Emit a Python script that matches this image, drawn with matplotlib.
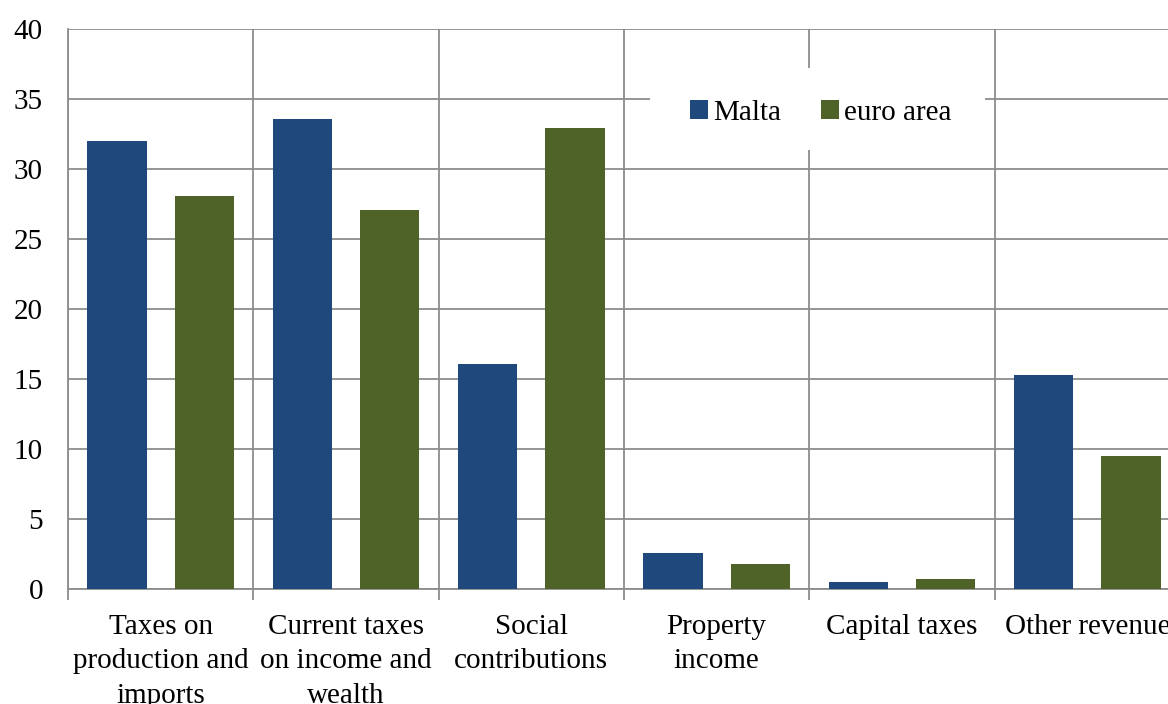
import numpy as np
import matplotlib.pyplot as plt
from matplotlib.patches import Rectangle

plt.rcParams['font.family'] = ['Liberation Serif', 'DejaVu Serif']

categories = ['Taxes on\nproduction and\nimports', 'Current taxes\non income and\nwealth',
              'Social\ncontributions', 'Property\nincome', 'Capital taxes', 'Other revenue']
malta = [32.0, 33.6, 16.1, 2.6, 0.5, 15.3]
euro_area = [28.1, 27.1, 32.9, 1.8, 0.7, 9.5]

grid_col = '#8c8c8c'
fs = 21
fig = plt.figure(figsize=(11.68, 7.04), dpi=100)
ax = fig.add_axes([68 / 1168, 115 / 704, 1112 / 1168, 560 / 704])

x = np.arange(len(categories))
w = 0.32
ax.bar(x - 0.235, malta, w, color='#1F497D', label='Malta', zorder=3)
ax.bar(x + 0.235, euro_area, w, color='#4F6228', label='euro area', zorder=3)

ax.set_xlim(-0.5, len(categories) - 0.5)
ax.set_ylim(0, 40)
ax.set_yticks(np.arange(0, 41, 5))
ax.set_xticks(x)
ax.set_xticklabels(categories, fontsize=fs, linespacing=1.42)
ax.set_xticks(np.arange(-0.5, len(categories), 1), minor=True)

ax.tick_params(axis='x', which='major', length=0, pad=18)
ax.tick_params(axis='x', which='minor', length=8, width=1.3, color=grid_col, direction='out')
ax.tick_params(axis='y', length=0, labelsize=fs, pad=18)

ax.set_axisbelow(True)
ax.grid(axis='y', color=grid_col, linewidth=1.3)
ax.grid(axis='x', which='minor', color=grid_col, linewidth=1.3)

for side in ['top', 'right']:
    ax.spines[side].set_visible(False)
for side in ['left', 'bottom']:
    ax.spines[side].set_color(grid_col)
    ax.spines[side].set_linewidth(1.3)

# white panel behind the legend, hiding the grid there
ax.add_patch(Rectangle((0.523, 0.784), 0.302, 0.146, transform=ax.transAxes,
                       facecolor='white', edgecolor='none', zorder=4))
leg = ax.legend(loc='center', bbox_to_anchor=(0.677, 0.85), ncol=2, fontsize=fs,
                frameon=False, handlelength=0.62, handleheight=0.62,
                handletextpad=0.17, columnspacing=1.35, borderpad=0)
leg.set_zorder(5)

fig.savefig('out.png', dpi=100)
